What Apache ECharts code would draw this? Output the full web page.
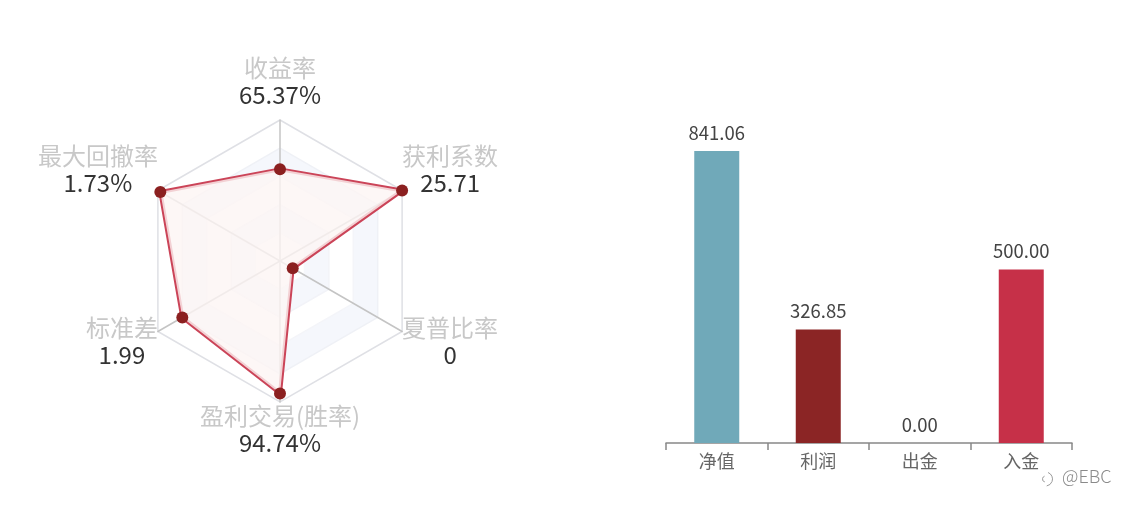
<!DOCTYPE html>
<html><head><meta charset="utf-8">
<style>html,body{margin:0;padding:0;background:#fff}#c{width:1126px;height:509px}</style>
<script src="https://cdn.jsdelivr.net/npm/echarts@6/dist/echarts.min.js"></script>
</head><body><div id="c"></div>
<script>
const radarNames = ['收益率','最大回撤率','标准差','盈利交易(胜率)','夏普比率','获利系数'];
const radarLabels = ['65.37%','1.73%','1.99','94.74%','0','25.71'];
const radarValues = [0.65,0.98,0.80,0.94,0.104,1.0];
const barCategories = ['净值','利润','出金','入金'];
const barValues = [841.06,326.85,0,500];
const barColors = ['#70a9b9','#8b2525','#8b2525','#c63048'];
const font = '"Noto Sans CJK SC","Noto Sans",sans-serif';
const spaceAbove = [0,0,20,0,20,0];
const spaceBelow = [12,42,0,0,0,42];
const rich = {
  n:{fontSize:24,color:'#c8c8c8',lineHeight:27,align:'center',fontFamily:font},
  v:{fontSize:24,color:'#333',lineHeight:27,align:'center',fontFamily:font}
};
radarNames.forEach((n,i)=>{
  rich['a'+i]={fontSize:1,lineHeight:spaceAbove[i],color:'transparent'};
  rich['b'+i]={fontSize:1,lineHeight:spaceBelow[i],color:'transparent'};
});
const chart = echarts.init(document.getElementById('c'), null, {renderer:'canvas'});
chart.setOption({
  animation:false,
  textStyle:{fontFamily:font},
  radar:{
    center:[280,261], radius:141, splitNumber:5, startAngle:90,
    indicator:radarNames.map(n=>({name:n,max:1,min:0})),
    nameGap:0,
    axisName:{
      formatter:(n)=>{
        const i=radarNames.indexOf(n);
        const lines=[`{n|${n}}`,`{v|${radarLabels[i]}}`];
        if(spaceAbove[i]) lines.unshift(`{a${i}| }`);
        if(spaceBelow[i]) lines.push(`{b${i}| }`);
        return lines.join('\n');
      },
      rich
    },
    axisLine:{lineStyle:{color:'#c4c4c4',width:1.5}},
    splitLine:{lineStyle:{color:['#f6f7fb','#f6f7fb','#f2f3f8','#f4f5f9','#eff1f6','#dfe0e5'],width:1.5}},
    splitArea:{areaStyle:{color:['#ffffff','#f5f7fc','#ffffff','#f5f7fc','#ffffff']}}
  },
  grid:{left:666,width:406,top:130.5,height:312.5},
  xAxis:{type:'category',data:barCategories,
    axisLine:{lineStyle:{color:'#888',width:1.5}},
    axisTick:{show:true,length:7,lineStyle:{color:'#888',width:1.5}},
    axisLabel:{fontSize:18,color:'#666',margin:9,fontFamily:font}},
  yAxis:{type:'value',min:0,max:900,show:false,splitLine:{show:false}},
  graphic:[
    {type:'text',left:1062,top:467,style:{text:'@EBC',fontSize:18,fill:'#8a8a8a',fontFamily:font,fontWeight:300}},
    {type:'group',left:1040,top:470,children:[
      {type:'arc',shape:{cx:6,cy:8,r:7,startAngle:-1.2,endAngle:1.4},style:{stroke:'#999',lineWidth:1,fill:null}},
      {type:'arc',shape:{cx:6,cy:8,r:3,startAngle:1.8,endAngle:4.4},style:{stroke:'#999',lineWidth:1,fill:null}}
    ]}
  ],
  series:[
    {type:'radar',symbol:'circle',symbolSize:12,
     lineStyle:{color:'#cb4458',width:4},
     itemStyle:{color:'#8b2020'},
     areaStyle:{color:'#fdf5f4',opacity:0.8},
     data:[{value:radarValues}]},
    {type:'bar',barWidth:45,
     data:barValues.map((v,i)=>({value:v,itemStyle:{color:barColors[i]}})),
     label:{show:true,position:'top',distance:9,fontSize:18.5,color:'#444',fontFamily:font,formatter:p=>p.value.toFixed(2)}}
  ]
});
</script></body></html>
